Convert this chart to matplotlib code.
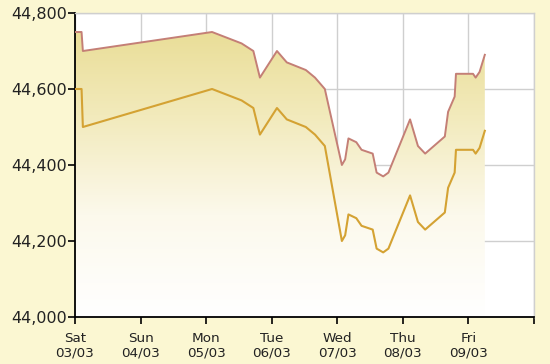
import numpy as np
import matplotlib
matplotlib.use("Agg")
import matplotlib.pyplot as plt
from matplotlib.colors import LinearSegmentedColormap

# ---- data (day offsets from Sat 03/03) ----
t = [0, 0.10, 0.12, 2.09, 2.54, 2.72, 2.82, 3.08, 3.23, 3.52, 3.66, 3.81,
     4.07, 4.12, 4.17, 4.29, 4.37, 4.54, 4.60, 4.70, 4.78, 5.11, 5.23, 5.34,
     5.64, 5.69, 5.79, 5.81, 6.07, 6.11, 6.17, 6.25]
sell = [44750, 44750, 44700, 44750, 44720, 44700, 44630, 44700, 44670, 44650, 44630, 44600,
        44400, 44415, 44470, 44460, 44440, 44430, 44380, 44370, 44380, 44520, 44450, 44430,
        44475, 44540, 44580, 44640, 44640, 44630, 44645, 44690]
buy = [44600, 44600, 44500, 44600, 44570, 44550, 44480, 44550, 44520, 44500, 44480, 44450,
       44200, 44215, 44270, 44260, 44240, 44230, 44180, 44170, 44180, 44320, 44250, 44230,
       44275, 44340, 44380, 44440, 44440, 44430, 44445, 44490]
day_labels = ["Sat\n03/03", "Sun\n04/03", "Mon\n05/03", "Tue\n06/03",
              "Wed\n07/03", "Thu\n08/03", "Fri\n09/03", ""]
y_ticks = [44000, 44200, 44400, 44600, 44800]

fig = plt.figure(figsize=(5.5, 3.64), dpi=100, facecolor="#fbf7d2")
ax = fig.add_axes([75/550, 1-317/364, (534-75)/550, (317-13)/364])
ax.set_facecolor("white")
ax.set_xlim(0, 7)
ax.set_ylim(44000, 44800)

# gradient fill under the sell line
cmap = LinearSegmentedColormap.from_list("g", ["#e8db90", "#f2eabb", "#fcf9ec", "#ffffff"])
grad = np.linspace(0, 1, 256).reshape(-1, 1)
im = ax.imshow(grad, extent=[0, 7, 44000, 44800], aspect="auto", cmap=cmap,
               origin="upper", zorder=1)
poly = ax.fill_between(t, sell, 44000, color="none", lw=0, zorder=1)
path = poly.get_paths()[0]
im.set_clip_path(path, ax.transData)

ax.plot(t, sell, color="#c47f76", lw=1.4, zorder=3)
ax.plot(t, buy, color="#d4a233", lw=1.5, zorder=3)

ax.set_xticks(range(8))
ax.set_xticklabels(day_labels, fontsize=9.7, family="DejaVu Sans", linespacing=1.1,
                   color="#222222")
ax.set_yticks(y_ticks)
ax.set_yticklabels([f"{v:,}" for v in y_ticks], fontsize=11.5, family="DejaVu Sans",
                   color="#222222")
ax.grid(True, color="#cfcfcf", lw=1.0, zorder=0)
ax.set_axisbelow(True)
ax.tick_params(axis="both", direction="out", length=5, width=1.2, color="black")
ax.tick_params(axis="x", pad=6)
ax.tick_params(axis="y", pad=1)

for s in ["top", "right"]:
    ax.spines[s].set_color("#cfcfcf")
    ax.spines[s].set_linewidth(1.0)
for s in ["left", "bottom"]:
    ax.spines[s].set_color("black")
    ax.spines[s].set_linewidth(1.3)

fig.savefig("out.png", dpi=100, facecolor=fig.get_facecolor())
